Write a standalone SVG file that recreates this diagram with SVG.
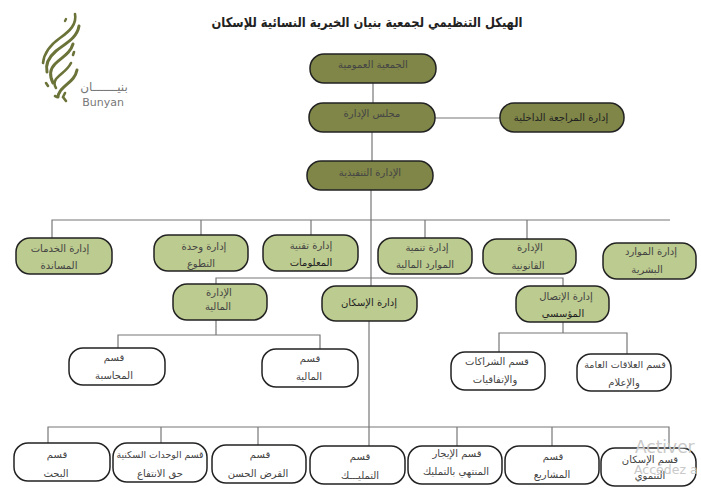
<svg xmlns="http://www.w3.org/2000/svg" width="701" height="493" viewBox="0 0 701 493">
<style>
text{font-family:"DejaVu Sans","Noto Sans",sans-serif;text-anchor:middle;fill:#444;font-size:10px}
rect{stroke:#222;stroke-width:1.5}
.d{fill:#7f8648}
.l{fill:#bccb8f}
.w{fill:#fff}
.c path{fill:none;stroke:#777;stroke-width:1.2}
.k path{fill:none;stroke:#6c7339;stroke-linecap:round}
.wm{fill:#c9c9c9;text-anchor:start}
</style>
<rect width="701" height="493" style="fill:#fff;stroke:none"/>
<text id="title" x="367" y="27" textLength="311" lengthAdjust="spacingAndGlyphs" style="font-size:13.4px;font-weight:bold;fill:#222">الهيكل التنظيمي لجمعية بنيان الخيرية النسائية للإسكان</text>
<g id="logo" class="k">
<path d="M75 14C77 24 70 31 60 38C50 45 44 53 43 63" stroke-width="2.6"/>
<path d="M79 26C77 38 66 43 56 51C49 57 45 63 47 72" stroke-width="3"/>
<path d="M66 19L65 21" stroke-width="2.4"/>
<path d="M73 44C70 54 62 57 55 64C50 69 49 75 53 83" stroke-width="3"/>
<path d="M71 63C67 71 61 73 56 79C54 82 54 85 56 88" stroke-width="2.6"/>
<path d="M77 70C75 80 67 83 61 90C59 93 58 94 58 97" stroke-width="3"/>
<path d="M74 52L73 55M46 83L48 86M55 96L57 97M65 93L63 97L66 101" stroke-width="2.6"/>
<text x="104" y="91" style="font-size:12px;fill:#777">بنيـــــــان</text>
<text x="103" y="106" style="font-size:11px;fill:#777">Bunyan</text>
</g>
<g id="connectors" class="c">
<path d="M373 83V103M372 132V161"/>
<path d="M435 118H500"/>
<path d="M371 190V286M369 321V446"/>
<path d="M52 238V220H670M201 220V235M311 220V235M425 220V238M527 220V239"/>
<path d="M216 284V278H563V286"/>
<path d="M216 320V335M118 348V335H320V349"/>
<path d="M563 321V333M499 352V333H627V355"/>
<path d="M48 443V427H669V448M161 427V443M258 427V445M457 427V446M552 427V446"/>
</g>
<g id="n1"><rect class="d" x="310" y="54" width="126" height="29" rx="14"/><text x="373" y="68">الجمعية العمومية</text></g>
<g id="n2"><rect class="d" x="309" y="103" width="126" height="29" rx="14"/><text x="372" y="117">مجلس الإدارة</text></g>
<g id="n3"><rect class="d" x="307" y="161" width="126" height="29" rx="14"/><text x="370" y="176">الإدارة التنفيذية</text></g>
<g id="n4"><rect class="d" x="500" y="103" width="124" height="29" rx="14"/><text x="561" y="121" style="fill:#222">إدارة المراجعة الداخلية</text></g>
<g id="n5"><rect class="l" x="16" y="238" width="96" height="36" rx="14"/><text x="60" y="252">إدارة الخدمات</text><text x="59" y="269">المساندة</text></g>
<g id="n6"><rect class="l" x="154" y="235" width="94" height="36" rx="14"/><text x="204" y="250">إدارة وحدة</text><text x="201" y="267">التطوع</text></g>
<g id="n7"><rect class="l" x="263" y="235" width="95" height="36" rx="14"/><text x="311" y="249">إدارة تقنية</text><text x="311" y="266" style="fill:#222">المعلومات</text></g>
<g id="n8"><rect class="l" x="378" y="238" width="94" height="36" rx="14"/><text x="427" y="251">إدارة تنمية</text><text x="425" y="268">الموارد المالية</text></g>
<g id="n9"><rect class="l" x="483" y="239" width="93" height="35" rx="14"/><text x="530" y="251">الإدارة</text><text x="528" y="269">القانونية</text></g>
<g id="n10"><rect class="l" x="603" y="243" width="93" height="36" rx="14"/><text x="651" y="255">إدارة الموارد</text><text x="647" y="273">البشرية</text></g>
<g id="n11"><rect class="l" x="173" y="284" width="94" height="36" rx="14"/><text x="219" y="296">الإدارة</text><text x="218" y="310">المالية</text></g>
<g id="n12"><rect class="l" x="322" y="286" width="95" height="35" rx="14"/><text x="369" y="306" style="fill:#222">إدارة الإسكان</text></g>
<g id="n13"><rect class="l" x="516" y="286" width="93" height="36" rx="14"/><text x="566" y="300">إدارة الإتصال</text><text x="563" y="317" style="fill:#222">المؤسسي</text></g>
<g id="n14"><rect class="w" x="69" y="348" width="96" height="37" rx="14"/><text x="114" y="361">قسم</text><text x="114" y="379">المحاسبة</text></g>
<g id="n15"><rect class="w" x="262" y="349" width="96" height="38" rx="14"/><text x="310" y="362">قسم</text><text x="309" y="380">المالية</text></g>
<g id="n16"><rect class="w" x="451" y="352" width="94" height="38" rx="14"/><text x="497" y="365">قسم الشراكات</text><text x="495" y="383">والإتفاقيات</text></g>
<g id="n17"><rect class="w" x="577" y="354" width="94" height="37" rx="14"/><text x="625" y="368" style="font-size:9.6px">قسم العلاقات العامة</text><text x="624" y="386">والإعلام</text></g>
<g id="n18"><rect class="w" x="14" y="443" width="96" height="38" rx="14"/><text x="57" y="458">قسم</text><text x="56" y="477">البحث</text></g>
<g id="n19"><rect class="w" x="113" y="443" width="94" height="39" rx="14"/><text x="160" y="458" style="font-size:9.4px">قسم الوحدات السكنية</text><text x="160" y="477">حق الانتفاع</text></g>
<g id="n20"><rect class="w" x="212" y="445" width="94" height="38" rx="14"/><text x="260" y="458">قسم</text><text x="258" y="477">القرض الحسن</text></g>
<g id="n21"><rect class="w" x="310" y="446" width="95" height="38" rx="14"/><text x="360" y="460">قسم</text><text x="360" y="479">التمليـــك</text></g>
<g id="n22"><rect class="w" x="408" y="446" width="94" height="38" rx="14"/><text x="457" y="457">قسم الإيجار</text><text x="456" y="475">المنتهي بالتمليك</text></g>
<g id="n23"><rect class="w" x="505" y="446" width="94" height="38" rx="14"/><text x="553" y="460">قسم</text><text x="552" y="478">المشاريع</text></g>
<g id="n24"><rect class="w" x="601" y="448" width="95" height="38" rx="14"/><text x="650" y="463">قسم الإسكان</text><text x="650" y="479">التنموي</text></g>
<g id="watermark">
<text class="wm" x="635" y="453" style="font-size:17px;fill:#c9c9c9">Activer</text>
<text class="wm" x="634" y="474" style="font-size:12.5px;fill:#c9c9c9">Accédez a</text>
</g>
</svg>
